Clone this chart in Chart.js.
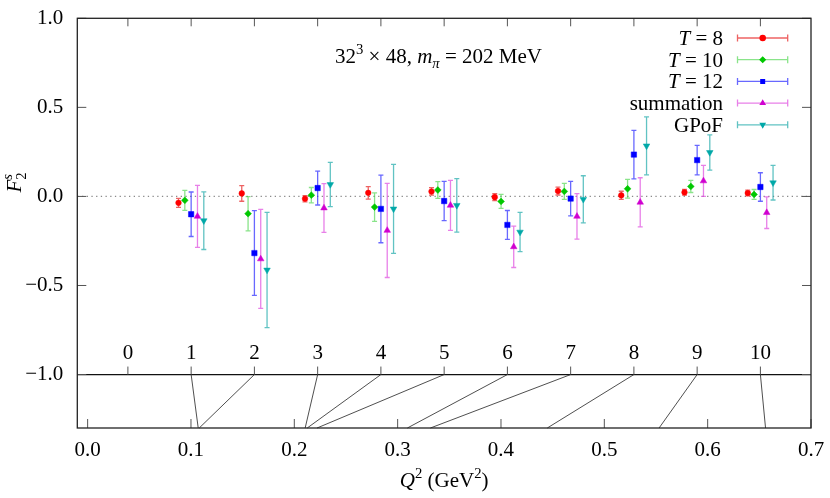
<!DOCTYPE html>
<html>
<head>
<meta charset="utf-8">
<script src="https://cdn.jsdelivr.net/npm/chart.js@4.4.1/dist/chart.umd.min.js"></script>
<style>
  html, body { margin: 0; padding: 0; background: #fff; }
  #wrap { width: 830px; height: 498px; }
</style>
</head>
<body>
<div id="wrap"><canvas id="chart" width="830" height="498"></canvas></div>
<script>
// momentum index of each point and its Q^2 (GeV^2)
const idx = [1, 2, 3, 4, 5, 6, 7, 8, 9, 10]
const idxLabels = [0, 1, 2, 3, 4, 5, 6, 7, 8, 9, 10]
const q2 = [0.107, 0.108, 0.2105, 0.2125, 0.222, 0.3094, 0.3317, 0.4448, 0.553, 0.656]

const names = ["T = 8", "T = 10", "T = 12", "summation", "GPoF"]
const t8 = [-0.036, 0.017, -0.013, 0.020, 0.028, -0.004, 0.030, 0.006, 0.023, 0.019]
const t8Err = [0.025, 0.044, 0.018, 0.035, 0.021, 0.019, 0.022, 0.023, 0.016, 0.016]
const t10 = [-0.022, -0.097, 0.007, -0.060, 0.036, -0.028, 0.028, 0.043, 0.056, 0.011]
const t10Err = [0.056, 0.096, 0.043, 0.080, 0.047, 0.039, 0.045, 0.053, 0.034, 0.028]
const t12 = [-0.100, -0.318, 0.047, -0.070, -0.026, -0.160, -0.012, 0.235, 0.204, 0.053]
const t12Err = [0.125, 0.238, 0.095, 0.190, 0.110, 0.081, 0.097, 0.136, 0.083, 0.080]
const summ = [-0.112, -0.351, -0.065, -0.191, -0.050, -0.283, -0.112, -0.033, 0.087, -0.091]
const summErr = [0.174, 0.278, 0.137, 0.264, 0.140, 0.116, 0.128, 0.138, 0.087, 0.089]
const gpof = [-0.136, -0.413, 0.067, -0.070, -0.050, -0.200, -0.016, 0.284, 0.247, 0.077]
const gpofErr = [0.162, 0.323, 0.124, 0.250, 0.150, 0.110, 0.132, 0.163, 0.099, 0.097]

const xTicks = [0.0, 0.1, 0.2, 0.3, 0.4, 0.5, 0.6, 0.7]
const yTicks = [-1.0, -0.5, 0.0, 0.5, 1.0]

const FONT = '"Liberation Serif", "Times New Roman", serif'
const FS = 21

const styles = [
    { color: "#ff0000", bar: "rgba(232, 60, 60, 0.8)", shape: "circle", r: 2.8, rot: 0, off: -0.2 },
    { color: "#00c800", bar: "rgba(60, 210, 60, 0.6)", shape: "rectRot", r: 3.4, rot: 0, off: -0.1 },
    { color: "#0000ff", bar: "rgba(40, 40, 255, 0.7)", shape: "rect", r: 3.8, rot: 0, off: 0 },
    { color: "#d000d0", bar: "rgba(220, 60, 220, 0.65)", shape: "triangle", r: 3.8, rot: 0, off: 0.1 },
    { color: "#00a8a8", bar: "rgba(30, 170, 170, 0.7)", shape: "triangle", r: 3.8, rot: 180, off: 0.2 }
]
const values = [t8, t10, t12, summ, gpof]
const errors = [t8Err, t10Err, t12Err, summErr, gpofErr]

const datasets = values.map((vals, s) => ({
    label: names[s],
    xAxisID: "x2",
    data: idx.map((k, i) => ({ x: k + styles[s].off, y: vals[i] })),
    errs: errors[s],
    vals: vals,
    barColor: styles[s].bar,
    backgroundColor: styles[s].color,
    borderColor: styles[s].color,
    pointStyle: styles[s].shape,
    pointRadius: styles[s].r,
    pointRotation: styles[s].rot,
    pointBorderWidth: 0.5,
    showLine: false
}))

// simple rich text: italic, super/subscript, stacked scripts
function layoutRich(ctx, parts, size) {
    let x = 0, prevStart = 0, prevW = 0
    const items = []
    for (const p of parts) {
        const fs = p.s ? size * 0.7 : size
        const font = (p.i ? "italic " : "") + fs + "px " + FONT
        ctx.font = font
        const w = ctx.measureText(p.t).width
        let start = x
        if (p.stack) {
            start = prevStart
            x = Math.max(prevStart + prevW, start + w)
        } else {
            x = start + w
        }
        items.push({ t: p.t, font: font, start: start, dy: p.s === 1 ? -0.42 * size : p.s === -1 ? 0.24 * size : 0 })
        prevStart = start
        prevW = w
    }
    return { items: items, width: x }
}
function drawRich(ctx, parts, x, y, size, align) {
    const L = layoutRich(ctx, parts, size)
    const x0 = align == "center" ? x - L.width / 2 : align == "right" ? x - L.width : x
    ctx.textAlign = "left"
    ctx.textBaseline = "alphabetic"
    for (const it of L.items) {
        ctx.font = it.font
        ctx.fillText(it.t, x0 + it.start, y + it.dy)
    }
}
function labelParts(name) {
    if (name.startsWith("T ")) return [{ t: "T", i: 1 }, { t: name.slice(1) }]
    return [{ t: name }]
}

const decor = {
    id: "decor",
    beforeDatasetsDraw(chart) {
        const ctx = chart.ctx
        const a = chart.chartArea
        const x = chart.scales.x, x2 = chart.scales.x2, y = chart.scales.y
        ctx.save()
        // dotted zero line
        ctx.strokeStyle = "#8a8a8a"
        ctx.lineWidth = 1.2
        ctx.setLineDash([1.3, 3.4])
        ctx.beginPath()
        ctx.moveTo(a.left, y.getPixelForValue(0))
        ctx.lineTo(a.right, y.getPixelForValue(0))
        ctx.stroke()
        ctx.setLineDash([])
        // solid line at -1 with index axis
        const yl = y.getPixelForValue(-1.0)
        const yb = y.getPixelForValue(-1.3)
        ctx.strokeStyle = "#111"
        ctx.lineWidth = 1.3
        ctx.beginPath()
        ctx.moveTo(a.left, yl)
        ctx.lineTo(a.right, yl)
        ctx.stroke()
        // connectors index -> Q^2
        ctx.lineWidth = 0.8
        ctx.strokeStyle = "#222"
        idx.forEach((k, i) => {
            ctx.beginPath()
            ctx.moveTo(x2.getPixelForValue(k), yl)
            ctx.lineTo(x.getPixelForValue(q2[i]), yb)
            ctx.stroke()
        })
        // inward ticks
        ctx.strokeStyle = "#555"
        ctx.lineWidth = 1
        ctx.beginPath()
        yTicks.forEach(v => {
            const py = y.getPixelForValue(v)
            ctx.moveTo(a.left, py); ctx.lineTo(a.left + 9, py)
            ctx.moveTo(a.right, py); ctx.lineTo(a.right - 9, py)
        })
        xTicks.forEach(v => {
            const px = x.getPixelForValue(v)
            ctx.moveTo(px, a.bottom); ctx.lineTo(px, a.bottom - 9)
        })
        idxLabels.forEach(k => {
            const px = x2.getPixelForValue(k)
            ctx.moveTo(px, a.top); ctx.lineTo(px, a.top + 8)
            ctx.moveTo(px, yl); ctx.lineTo(px, yl - 8)
        })
        ctx.stroke()
        // index labels
        ctx.fillStyle = "#000"
        ctx.font = FS + "px " + FONT
        ctx.textAlign = "center"
        ctx.textBaseline = "alphabetic"
        idxLabels.forEach(k => ctx.fillText(String(k), x2.getPixelForValue(k), yl - 16))
        // frame
        ctx.strokeStyle = "#222"
        ctx.lineWidth = 1.3
        ctx.strokeRect(a.left, a.top, a.right - a.left, a.bottom - a.top)
        // error bars
        chart.data.datasets.forEach((ds, di) => {
            const meta = chart.getDatasetMeta(di)
            ctx.strokeStyle = ds.barColor
            ctx.lineWidth = 1.3
            meta.data.forEach((el, i) => {
                const top = y.getPixelForValue(ds.vals[i] + ds.errs[i])
                const bot = y.getPixelForValue(ds.vals[i] - ds.errs[i])
                ctx.beginPath()
                ctx.moveTo(el.x, top); ctx.lineTo(el.x, bot)
                ctx.moveTo(el.x - 2.5, top); ctx.lineTo(el.x + 2.5, top)
                ctx.moveTo(el.x - 2.5, bot); ctx.lineTo(el.x + 2.5, bot)
                ctx.stroke()
            })
        })
        ctx.restore()
    },
    afterDatasetsDraw(chart) {
        const ctx = chart.ctx
        const a = chart.chartArea
        ctx.save()
        ctx.fillStyle = "#000"
        // legend
        chart.data.datasets.forEach((ds, i) => {
            const cy = 38 + i * 21.7
            ctx.fillStyle = "#000"
            drawRich(ctx, labelParts(ds.label), 723, cy + 7, FS, "right")
            ctx.strokeStyle = ds.barColor
            ctx.lineWidth = 1.3
            ctx.beginPath()
            ctx.moveTo(737.5, cy); ctx.lineTo(787.7, cy)
            ctx.moveTo(737.5, cy - 3.5); ctx.lineTo(737.5, cy + 3.5)
            ctx.moveTo(787.7, cy - 3.5); ctx.lineTo(787.7, cy + 3.5)
            ctx.stroke()
            ctx.fillStyle = ds.backgroundColor
            ctx.strokeStyle = ds.backgroundColor
            Chart.helpers.drawPoint(ctx, { pointStyle: ds.pointStyle, radius: 2.6, rotation: ds.pointRotation, borderWidth: 0.5 }, 762.7, cy)
        })
        ctx.fillStyle = "#000"
        // annotation
        drawRich(ctx, [{ t: "32" }, { t: "3", s: 1 }, { t: " × 48, " }, { t: "m", i: 1 }, { t: "π", i: 1, s: -1 }, { t: " = 202 MeV" }], 335, 62.5, FS, "left")
        // x title
        drawRich(ctx, [{ t: "Q", i: 1 }, { t: "2", s: 1 }, { t: " (GeV" }, { t: "2", s: 1 }, { t: ")" }], (a.left + a.right) / 2, 487, FS, "center")
        // y title
        ctx.translate(20.5, 182.5)
        ctx.rotate(-Math.PI / 2)
        drawRich(ctx, [{ t: "F", i: 1 }, { t: "2", s: -1 }, { t: "s", i: 1, s: 1, stack: true }], 0, 0, FS, "center")
        ctx.restore()
    }
}

new Chart(document.getElementById("chart"), {
    type: "scatter",
    data: { datasets: datasets },
    options: {
        responsive: false,
        animation: false,
        devicePixelRatio: 1,
        layout: { padding: { top: 18.3, right: 19, left: 0, bottom: 0 } },
        plugins: { legend: { display: false }, tooltip: { enabled: false } },
        scales: {
            x: {
                type: "linear",
                position: "bottom",
                min: -0.01,
                max: 0.7,
                afterBuildTicks: s => { s.ticks = xTicks.map(v => ({ value: v })) },
                afterFit: s => { s.height = 70; s.paddingLeft = 0; s.paddingRight = 0 },
                grid: { display: false, drawTicks: false },
                border: { display: false },
                ticks: {
                    color: "#000",
                    font: { family: FONT, size: FS },
                    padding: 10,
                    maxRotation: 0,
                    autoSkip: false,
                    callback: v => v.toFixed(1)
                }
            },
            x2: {
                type: "linear",
                position: "top",
                display: false,
                min: -0.8,
                max: 10.8
            },
            y: {
                type: "linear",
                position: "left",
                min: -1.3,
                max: 1.0,
                afterBuildTicks: s => { s.ticks = yTicks.map(v => ({ value: v })) },
                afterFit: s => { s.width = 77.3; s.paddingTop = 0; s.paddingBottom = 0 },
                grid: { display: false, drawTicks: false },
                border: { display: false },
                ticks: {
                    color: "#000",
                    font: { family: FONT, size: FS },
                    padding: 14,
                    callback: v => v.toFixed(1).replace("-", "−")
                }
            }
        }
    },
    plugins: [decor]
})
</script>
</body>
</html>
